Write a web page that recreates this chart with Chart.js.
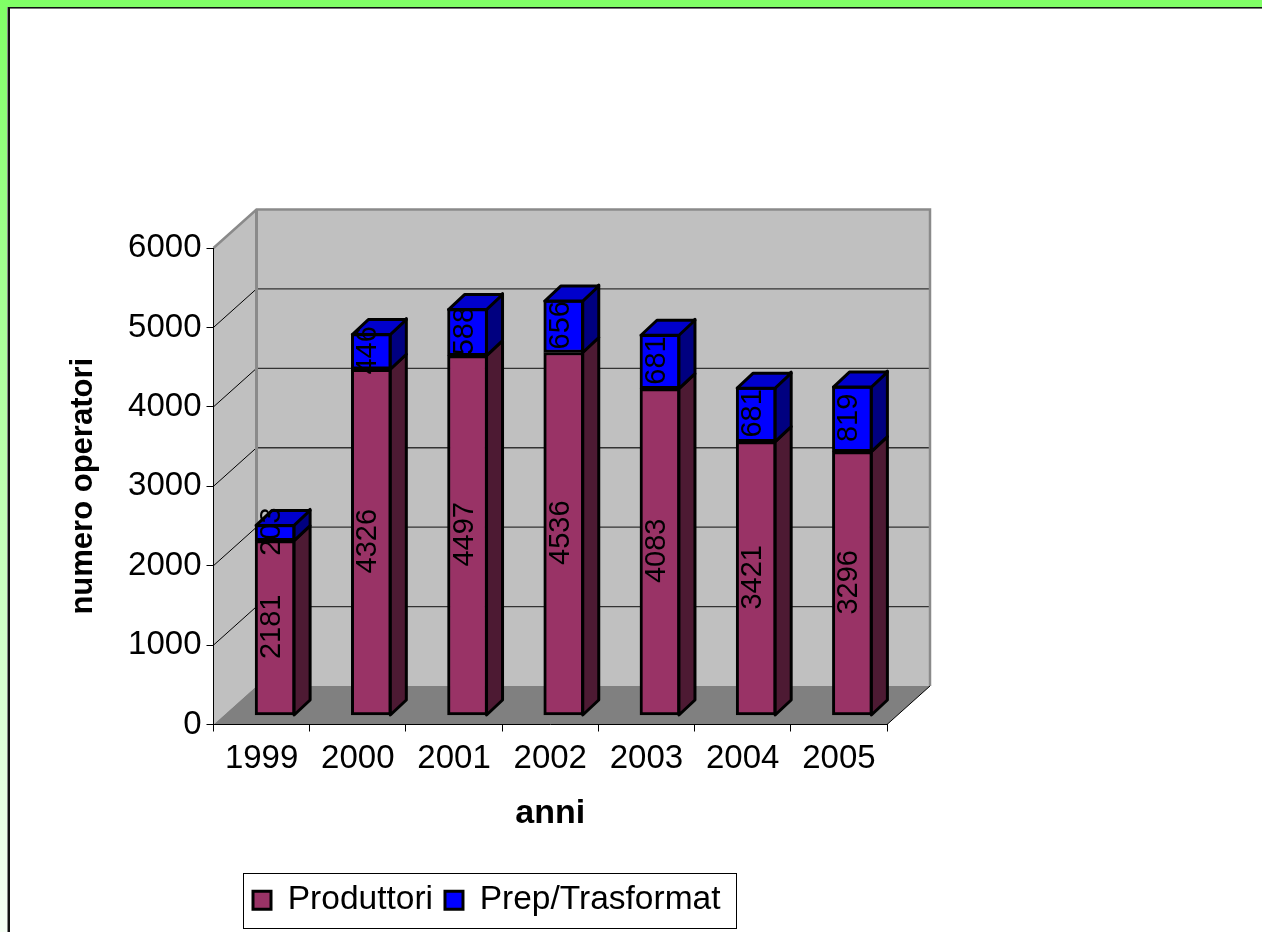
<!DOCTYPE html>
<html><head><meta charset="utf-8">
<style>
html,body{margin:0;padding:0;width:1262px;height:932px;overflow:hidden;background:linear-gradient(180deg,#80FF66 0%,#F6FFF5 100%);}
#panel{position:absolute;left:8px;top:7px;right:0;bottom:0;background:#fff;border-left:2px solid #111;border-top:1px solid #111;box-shadow:inset 0 1px 0 #777,-1px 0 0 #888;}
canvas{position:absolute;left:0;top:0;}
</style>
<script src="https://cdn.jsdelivr.net/npm/chart.js@4"></script>
</head><body>
<div id="panel"></div>
<canvas id="c" width="1262" height="932"></canvas>
<script>
const years=['1999','2000','2001','2002','2003','2004','2005'];
const produttori=[2181,4326,4497,4536,4083,3421,3296];
const prepTrasformat=[203,446,588,656,681,681,819];
const yTicks=[0,1000,2000,3000,4000,5000,6000];
const FONT='"Liberation Sans", Arial, sans-serif';
const depth={dx:43,dy:-38.5};
const barShift={dx:13.5,dy:-9.5};
const bar3d={dx:16,dy:-15};

function poly(ctx,pts,fill,stroke,lw){
  ctx.beginPath();pts.forEach((p,i)=>i?ctx.lineTo(p[0],p[1]):ctx.moveTo(p[0],p[1]));ctx.closePath();
  if(fill){ctx.fillStyle=fill;ctx.fill();}
  if(stroke){ctx.strokeStyle=stroke;ctx.lineWidth=lw;ctx.lineJoin='round';ctx.stroke();}
}
const walls={id:'walls',beforeDraw(chart){
  const c=chart.ctx,y=chart.scales.y,a=chart.chartArea,dx=depth.dx,dy=depth.dy;
  const L=a.left,R=a.right,B=y.getPixelForValue(0),T=y.getPixelForValue(6000);
  c.save();
  poly(c,[[L,T],[L+dx,T+dy],[L+dx,B+dy],[L,B]],'#C0C0C0');
  poly(c,[[L+dx,T+dy],[R+dx,T+dy],[R+dx,B+dy],[L+dx,B+dy]],'#C0C0C0');
  poly(c,[[L,B],[R,B],[R+dx,B+dy],[L+dx,B+dy]],'#808080');
  yTicks.slice(1,-1).forEach(v=>{
    const p=y.getPixelForValue(v);
    c.strokeStyle='#000';c.lineWidth=1;
    c.beginPath();c.moveTo(L,p);c.lineTo(L+dx,p+dy);c.stroke();
    c.strokeStyle='#333';c.lineWidth=1.4;
    c.beginPath();c.moveTo(L+dx,p+dy);c.lineTo(R+dx,p+dy);c.stroke();
  });
  c.strokeStyle='#8A8A8A';c.lineWidth=2.5;
  c.beginPath();c.moveTo(L,T);c.lineTo(L+dx,T+dy);c.lineTo(R+dx,T+dy);c.lineTo(R+dx,B+dy);c.stroke();
  c.beginPath();c.moveTo(L+dx,T+dy);c.lineTo(L+dx,B+dy);c.lineWidth=3;c.stroke();
  c.strokeStyle='#000';c.lineWidth=1;
  c.beginPath();c.moveTo(R,B);c.lineTo(R+dx,B+dy);c.stroke();
  c.restore();
}};
const barFaces={id:'barFaces',
  beforeDatasetsDraw(chart){chart.ctx.save();chart.ctx.translate(barShift.dx,barShift.dy);},
  afterDatasetsDraw(chart){
    const c=chart.ctx,dx=bar3d.dx,dy=bar3d.dy;
    const sideCols=['#4D1A33','#000080'];
    chart.data.datasets.forEach((ds,di)=>{
      chart.getDatasetMeta(di).data.forEach(el=>{
        const p=el.getProps(['x','y','base','width'],true);
        const r=p.x+p.width/2,l=p.x-p.width/2;
        poly(c,[[r-1,p.y],[r-1+dx,p.y+dy],[r-1+dx,p.base+dy],[r-1,p.base]],sideCols[di],'#000',3);
        if(di===chart.data.datasets.length-1)
          poly(c,[[l+1,p.y+1],[l+1+dx,p.y+1+dy],[r-1+dx,p.y+1+dy],[r-1,p.y+1]],'#0000CC','#000',3);
      });
    });
    c.fillStyle='#000';c.font='29px '+FONT;c.textAlign='center';c.textBaseline='middle';
    chart.data.datasets.forEach((ds,di)=>{
      chart.getDatasetMeta(di).data.forEach((el,i)=>{
        const p=el.getProps(['x','y','base'],true);
        c.save();c.translate(p.x-3,(p.y+p.base)/2-1);c.rotate(-Math.PI/2);
        c.fillText(String(ds.data[i]),0,0);c.restore();
      });
    });
    c.restore();
  }
};
const legendBox={id:'legendBox',
  afterLayout(chart){const l=chart.legend;l.left=241;l.right=737;l.top=871.5;l.bottom=931;l.width=496;l.height=60;},
  afterDraw(chart){const c=chart.ctx;c.save();c.strokeStyle='#000';c.lineWidth=1;c.strokeRect(243.5,873.5,493,55);c.restore();}
};
new Chart(document.getElementById('c'),{
  type:'bar',
  data:{labels:years,datasets:[
    {label:'Produttori',data:produttori,backgroundColor:'#993366',borderColor:'#000',borderWidth:3,borderSkipped:false,barThickness:40,clip:false,yAxisID:'yBar'},
    {label:'Prep/Trasformat',data:prepTrasformat,backgroundColor:'#0000FF',borderColor:'#000',borderWidth:3,borderSkipped:false,barThickness:40,clip:false,yAxisID:'yBar'}
  ]},
  plugins:[walls,barFaces,legendBox],
  options:{
    responsive:false,animation:false,
    layout:{padding:{left:60,right:375,top:248,bottom:42}},
    scales:{
      x:{stacked:true,
        afterFit(s){s.height=110;},
        grid:{drawOnChartArea:false,drawTicks:true,tickLength:7,tickColor:'#000',tickWidth:1},
        border:{display:true,color:'#000',width:1},
        ticks:{color:'#000',font:{family:FONT,size:33},padding:8,maxRotation:0,autoSkip:false},
        title:{display:true,text:'anni',color:'#000',font:{family:FONT,size:34,weight:'bold'},padding:{top:0,bottom:0}}
      },
      y:{min:0,max:6000,
        afterFit(s){s.width=153.5;},
        grid:{drawOnChartArea:false,drawTicks:true,tickLength:7,tickColor:'#000',tickWidth:1},
        border:{display:true,color:'#000',width:1},
        ticks:{color:'#000',font:{family:FONT,size:33},padding:5,stepSize:1000,callback:v=>String(v)},
        title:{display:true,text:'numero operatori',color:'#000',font:{family:FONT,size:31,weight:'bold'},padding:{top:5,bottom:0}}
      },
      yBar:{display:false,stacked:true,min:0,max:5962}
    },
    plugins:{
      tooltip:{enabled:false},
      legend:{display:true,position:'bottom',align:'start',
        labels:{boxWidth:18,boxHeight:18,padding:12,color:'#000',font:{family:FONT,size:33.5}}}
    }
  }
});
</script>
</body></html>
